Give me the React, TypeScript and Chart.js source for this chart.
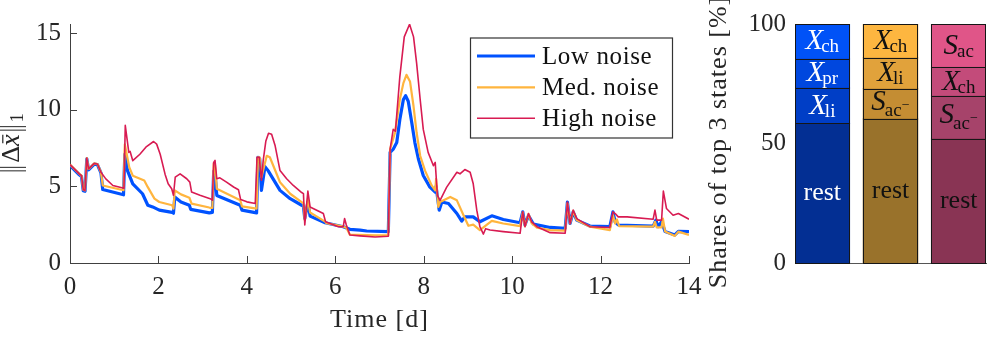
import React, { useEffect, useRef } from 'react';
import { Chart, registerables } from 'chart.js';

Chart.register(...registerables);

const FONT = '"Liberation Serif", "DejaVu Serif", serif';
const AXIS_COLOR = '#404040';
const TEXT_COLOR = '#262626';

// ---------- line chart data ----------
const lowT = [0, 0.21, 0.26, 0.30, 0.34, 0.38, 0.42, 0.55, 0.62, 0.70, 0.74, 1.21, 1.24, 1.30, 1.42, 1.64, 1.76, 1.87, 2.02, 2.31, 2.34, 2.37, 2.51, 2.70, 2.73, 3.15, 3.22, 3.25, 3.28, 3.32, 3.85, 3.89, 4.22, 4.25, 4.29, 4.33, 4.41, 4.48, 4.75, 4.98, 5.24, 5.28, 5.31, 5.38, 5.43, 5.77, 6.18, 6.33, 6.56, 6.71, 7.20, 7.24, 7.31, 7.39, 7.46, 7.54, 7.59, 7.65, 7.73, 7.80, 7.88, 7.99, 8.14, 8.26, 8.28, 8.35, 8.41, 8.56, 8.75, 8.86, 8.93, 9.12, 9.27, 9.54, 9.80, 10.18, 10.24, 10.29, 10.37, 10.48, 10.86, 11.20, 11.25, 11.31, 11.38, 11.46, 11.76, 12.21, 12.28, 12.33, 12.40, 13.19, 13.25, 13.30, 13.38, 13.46, 13.68, 13.76, 14.0];
const lowV = [6.36, 5.76, 5.64, 4.72, 4.68, 6.8, 6.08, 6.45, 6.42, 5.88, 4.8, 4.45, 7.1, 6.03, 5.17, 4.52, 3.77, 3.66, 3.45, 3.3, 3.25, 4.3, 3.98, 3.77, 3.5, 3.27, 3.3, 6.0, 5.9, 4.41, 3.77, 3.45, 3.27, 6.9, 6.8, 4.74, 6.29, 6.03, 4.74, 4.2, 3.77, 3.7, 2.9, 3.98, 3.06, 2.63, 2.37, 2.2, 2.15, 2.09, 2.05, 7.22, 7.43, 7.86, 9.37, 10.67, 10.92, 10.56, 9.15, 7.86, 6.79, 5.71, 4.95, 4.63, 5.0, 3.45, 3.98, 3.88, 3.23, 2.73, 3.01, 3.01, 2.69, 3.08, 2.84, 2.63, 3.34, 2.48, 3.1, 2.54, 2.32, 2.26, 3.98, 2.58, 3.34, 2.8, 2.41, 2.37, 3.34, 2.69, 2.48, 2.41, 2.8, 2.37, 2.69, 2.05, 1.83, 2.07, 2.05];

const medT = [0, 0.21, 0.26, 0.30, 0.34, 0.38, 0.42, 0.55, 0.62, 0.70, 0.74, 1.21, 1.24, 1.34, 1.42, 1.68, 1.76, 1.91, 2.02, 2.31, 2.34, 2.37, 2.51, 2.70, 2.75, 3.15, 3.22, 3.25, 3.28, 3.32, 3.85, 3.89, 4.22, 4.25, 4.29, 4.33, 4.45, 4.52, 4.75, 4.98, 5.24, 5.28, 5.31, 5.38, 5.43, 5.77, 5.80, 6.18, 6.25, 6.33, 6.90, 7.20, 7.24, 7.35, 7.46, 7.54, 7.61, 7.69, 7.77, 7.84, 7.92, 8.03, 8.18, 8.26, 8.28, 8.33, 8.37, 8.60, 8.75, 8.90, 9.01, 9.12, 9.27, 9.54, 9.80, 10.18, 10.24, 10.29, 10.37, 10.44, 10.56, 10.86, 11.20, 11.25, 11.31, 11.38, 11.46, 11.76, 12.21, 12.28, 12.33, 12.37, 12.42, 13.19, 13.23, 13.27, 13.38, 13.41, 13.46, 13.68, 13.76, 14.0];
const medV = [6.42, 5.82, 5.7, 4.78, 4.74, 6.85, 6.14, 6.5, 6.46, 5.92, 5.06, 4.75, 7.75, 6.25, 5.7, 5.38, 4.95, 4.2, 3.98, 3.77, 3.55, 4.74, 4.48, 4.26, 3.88, 3.62, 3.6, 6.5, 6.4, 4.85, 4.09, 3.7, 3.55, 6.9, 6.9, 5.6, 7.0, 6.9, 5.27, 4.52, 3.98, 3.9, 2.8, 4.2, 3.3, 2.7, 2.6, 2.37, 2.3, 1.85, 1.8, 1.82, 7.43, 8.5, 10.67, 11.74, 12.28, 11.85, 10.23, 8.5, 7.0, 6.03, 5.06, 4.74, 5.5, 3.66, 3.98, 4.31, 4.09, 3.12, 2.43, 2.5, 2.15, 2.75, 2.58, 2.41, 3.3, 2.4, 3.2, 2.6, 2.3, 2.15, 2.11, 3.9, 2.58, 3.4, 2.8, 2.37, 2.15, 3.12, 2.58, 2.84, 2.41, 2.37, 2.69, 2.32, 2.32, 2.9, 2.05, 1.77, 2.05, 1.83];

const highT = [0, 0.21, 0.26, 0.30, 0.34, 0.38, 0.42, 0.55, 0.62, 0.70, 0.81, 0.97, 1.22, 1.25, 1.33, 1.36, 1.42, 1.58, 1.73, 1.89, 1.96, 2.04, 2.15, 2.22, 2.30, 2.34, 2.38, 2.49, 2.64, 2.71, 2.75, 2.94, 3.17, 3.22, 3.25, 3.28, 3.32, 3.39, 3.54, 3.70, 3.81, 3.86, 4.00, 4.19, 4.23, 4.28, 4.33, 4.37, 4.43, 4.49, 4.56, 4.64, 4.75, 4.90, 5.05, 5.24, 5.28, 5.31, 5.38, 5.43, 5.73, 5.78, 6.07, 6.18, 6.21, 6.25, 6.33, 6.56, 6.90, 7.20, 7.24, 7.31, 7.36, 7.46, 7.56, 7.68, 7.77, 7.84, 7.92, 7.99, 8.10, 8.22, 8.26, 8.31, 8.37, 8.52, 8.75, 8.82, 8.93, 9.05, 9.12, 9.20, 9.27, 9.35, 9.40, 9.50, 9.80, 10.18, 10.24, 10.29, 10.37, 10.44, 10.56, 10.86, 11.20, 11.25, 11.31, 11.38, 11.46, 11.76, 12.21, 12.28, 12.33, 12.40, 12.60, 13.19, 13.23, 13.27, 13.38, 13.42, 13.49, 13.64, 13.76, 14.0];
const highV = [6.42, 5.82, 5.7, 4.78, 4.74, 6.85, 6.14, 6.5, 6.46, 5.92, 5.49, 5.06, 4.88, 8.98, 7.22, 7.28, 6.68, 7.1, 7.6, 7.93, 7.76, 7.1, 5.8, 5.17, 4.85, 4.42, 5.6, 5.82, 5.5, 5.28, 4.63, 4.42, 4.2, 4.1, 6.57, 6.7, 5.5, 5.56, 5.28, 4.96, 4.78, 4.14, 3.99, 3.88, 6.9, 6.9, 5.4, 6.7, 7.97, 8.47, 8.4, 7.65, 6.03, 5.5, 5.06, 4.6, 4.53, 2.48, 4.7, 3.66, 3.23, 2.69, 2.37, 2.37, 2.9, 2.48, 1.83, 1.77, 1.7, 1.75, 7.43, 8.72, 8.6, 12.17, 14.76, 15.58, 14.76, 13.03, 10.67, 8.72, 7.22, 6.35, 6.57, 4.41, 4.09, 4.95, 5.92, 5.82, 6.1, 5.92, 5.17, 3.45, 2.37, 1.89, 2.24, 2.15, 2.05, 1.94, 3.34, 2.37, 3.23, 2.69, 2.37, 1.98, 1.94, 3.98, 2.58, 3.45, 2.9, 2.37, 2.32, 3.34, 3.23, 3.01, 3.01, 2.86, 3.45, 2.8, 2.8, 4.69, 3.56, 3.12, 3.23, 2.86];

const seriesNames = ['Low noise', 'Med. noise', 'High noise'];
const seriesColors = ['#0052ff', '#ffb53e', '#d81b52'];
const seriesWidths = [3.2, 2.2, 1.6];

const timeTicks = [0, 2, 4, 6, 8, 10, 12, 14];
const normTicks = [0, 5, 10, 15];

// ---------- bar chart data ----------
const barPositions = [1, 2, 3];
const restShares = [58.4, 60.2, 51.9];
const secondShares = [14.8, 12.7, 18.0];
const thirdShares = [12.2, 13.0, 12.0];
const topShares = [14.6, 14.1, 18.1];
const restLabels = ['rest', 'rest', 'rest'];
const secondLabels = ['X_li', 'S_ac-', 'S_ac-'];
const thirdLabels = ['X_pr', 'X_li', 'X_ch'];
const topLabels = ['X_ch', 'X_ch', 'S_ac'];
const restColors = ['#032f93', '#99722b', '#893454'];
const secondColors = ['#003ec6', '#c48d33', '#a6436a'];
const thirdColors = ['#0047de', '#e1a23b', '#c34b7a'];
const topColors = ['#0052f7', '#fdb640', '#e05588'];
const labelColors = ['#ffffff', '#111111', '#111111'];
const shareTicks = [0, 50, 100];

// ---------- rich text helpers ----------
type Part = { t: string; size: number; italic?: boolean; dy?: number; dx?: number; bar?: boolean; norm?: boolean };

function fontOf(p: Part) {
  return `${p.italic ? 'italic ' : ''}${p.size}px ${FONT}`;
}

function partWidth(ctx: CanvasRenderingContext2D, p: Part) {
  if (p.norm) return 10;
  ctx.font = fontOf(p);
  return ctx.measureText(p.t).width;
}

function drawParts(ctx: CanvasRenderingContext2D, parts: Part[], x: number, y: number) {
  let w = 0;
  for (const p of parts) w += partWidth(ctx, p) + (p.dx || 0);
  let cx = x - w / 2;
  ctx.textAlign = 'left';
  ctx.textBaseline = 'alphabetic';
  for (const p of parts) {
    cx += p.dx || 0;
    const pw = partWidth(ctx, p);
    if (p.norm) {
      ctx.save();
      ctx.strokeStyle = ctx.fillStyle as string;
      ctx.lineWidth = 1;
      ctx.beginPath();
      for (const off of [3, 6.5]) {
        ctx.moveTo(cx + off, y - 19);
        ctx.lineTo(cx + off, y + 7);
      }
      ctx.stroke();
      ctx.restore();
    } else {
      ctx.font = fontOf(p);
      ctx.fillText(p.t, cx, y + (p.dy || 0));
    }
    if (p.bar) {
      ctx.save();
      ctx.strokeStyle = ctx.fillStyle as string;
      ctx.lineWidth = 1.2;
      ctx.beginPath();
      const by = y + (p.dy || 0) - p.size * 0.6;
      ctx.moveTo(cx + pw * 0.25, by);
      ctx.lineTo(cx + pw * 0.95, by);
      ctx.stroke();
      ctx.restore();
    }
    cx += pw;
  }
}

function labelParts(label: string): Part[] {
  if (label.indexOf('_') < 0) return [{ t: label, size: 26 }];
  const [main, subRaw] = label.split('_');
  const minus = subRaw.endsWith('-');
  const sub = minus ? subRaw.slice(0, -1) : subRaw;
  const parts: Part[] = [
    { t: main, size: 29, italic: true },
    { t: sub, size: 19, dy: minus ? 6 : 3, dx: main === 'X' ? -2 : -1 },
  ];
  if (minus) parts.push({ t: '\u2212', size: 14, dy: -1 });
  return parts;
}

// ---------- plugins ----------
const leftDecor = {
  id: 'leftDecor',
  afterDatasetsDraw(chart: any) {
    const { ctx, chartArea, scales } = chart;
    const xs = scales.x;
    const ys = scales.y;
    ctx.save();
    // inward tick marks
    ctx.strokeStyle = AXIS_COLOR;
    ctx.lineWidth = 1;
    ctx.beginPath();
    for (const v of normTicks) {
      const py = Math.round(ys.getPixelForValue(v)) + 0.5;
      ctx.moveTo(chartArea.left, py);
      ctx.lineTo(chartArea.left + 7, py);
    }
    for (const v of timeTicks) {
      const px = Math.round(xs.getPixelForValue(v)) + 0.5;
      ctx.moveTo(px, chartArea.bottom);
      ctx.lineTo(px, chartArea.bottom - 7);
    }
    ctx.stroke();

    // legend
    const bx = 470.5, by = 38, bw = 202, bh = 100;
    ctx.fillStyle = '#ffffff';
    ctx.fillRect(bx, by, bw, bh);
    ctx.strokeStyle = '#333333';
    ctx.lineWidth = 1.2;
    ctx.strokeRect(bx, by, bw, bh);
    const rows = [56, 87.3, 118.3];
    rows.forEach((ry, i) => {
      ctx.strokeStyle = seriesColors[i];
      ctx.lineWidth = seriesWidths[i];
      ctx.beginPath();
      ctx.moveTo(477, ry);
      ctx.lineTo(535, ry);
      ctx.stroke();
      ctx.fillStyle = '#111111';
      ctx.font = `25px ${FONT}`;
      (ctx as any).letterSpacing = '0.6px';
      ctx.textAlign = 'left';
      ctx.textBaseline = 'alphabetic';
      ctx.fillText(seriesNames[i], 542, ry + 8);
      (ctx as any).letterSpacing = '0px';
    });

    // x title
    ctx.fillStyle = TEXT_COLOR;
    ctx.font = `26px ${FONT}`;
    (ctx as any).letterSpacing = '1px';
    ctx.textAlign = 'center';
    ctx.textBaseline = 'alphabetic';
    ctx.fillText('Time [d]', (chartArea.left + chartArea.right) / 2, 327);
    (ctx as any).letterSpacing = '0px';

    // y title
    ctx.translate(19, (chartArea.top + chartArea.bottom) / 2);
    ctx.rotate(-Math.PI / 2);
    drawParts(ctx, [
      { t: '', size: 26, norm: true },
      { t: '\u0394', size: 26, dx: 1 },
      { t: 'x', size: 27, italic: true, bar: true },
      { t: '', size: 26, norm: true, dx: 1 },
      { t: '1', size: 18, dy: 4, dx: 1 },
    ], 0, 0);
    ctx.restore();
  },
};

const rightDecor = {
  id: 'rightDecor',
  afterDatasetsDraw(chart: any) {
    const { ctx } = chart;
    ctx.save();
    const layerLabels = [restLabels, secondLabels, thirdLabels, topLabels];
    // crisp outlines of every bar segment
    ctx.strokeStyle = '#161616';
    ctx.lineWidth = 1;
    layerLabels.forEach((_, di) => {
      const meta = chart.getDatasetMeta(di);
      meta.data.forEach((el: any) => {
        const l = Math.round(el.x - el.width / 2);
        const r = Math.round(el.x + el.width / 2);
        const t = Math.round(Math.min(el.y, el.base));
        const b = Math.round(Math.max(el.y, el.base));
        ctx.strokeRect(l + 0.5, t + 0.5, r - l - 1, b - t);
      });
    });
    layerLabels.forEach((labels, di) => {
      const meta = chart.getDatasetMeta(di);
      meta.data.forEach((el: any, j: number) => {
        const cy = (el.y + el.base) / 2;
        const lab = labels[j];
        ctx.fillStyle = labelColors[j];
        const off = lab === 'rest' ? 7 : lab.endsWith('-') ? 6 : 8;
        drawParts(ctx, labelParts(lab), el.x, cy + off);
      });
    });
    // y title
    ctx.fillStyle = TEXT_COLOR;
    ctx.translate(26, 142);
    ctx.rotate(-Math.PI / 2);
    ctx.font = `26px ${FONT}`;
    (ctx as any).letterSpacing = '1px';
    ctx.textAlign = 'center';
    ctx.textBaseline = 'alphabetic';
    ctx.fillText('Shares of top 3 states [%]', 0, 0);
    (ctx as any).letterSpacing = '0px';
    ctx.restore();
  },
};

function pts(ts: number[], vs: number[]) {
  return ts.map((t, i) => ({ x: t, y: vs[i] }));
}

export default function App() {
  const leftRef = useRef<HTMLCanvasElement>(null);
  const rightRef = useRef<HTMLCanvasElement>(null);

  useEffect(() => {
    const series = [pts(lowT, lowV), pts(medT, medV), pts(highT, highV)];
    const left = new Chart(leftRef.current as HTMLCanvasElement, {
      type: 'line',
      data: {
        datasets: series.map((d, i) => ({
          label: seriesNames[i],
          data: d,
          borderColor: seriesColors[i],
          backgroundColor: seriesColors[i],
          borderWidth: seriesWidths[i],
          pointRadius: 0,
          tension: 0,
          borderJoinStyle: 'round' as const,
          order: 3 - i,
        })),
      },
      options: {
        responsive: false,
        maintainAspectRatio: false,
        animation: false,
        devicePixelRatio: 1,
        events: [],
        layout: { padding: { top: 22, right: 23, left: 0, bottom: 0 } },
        plugins: { legend: { display: false }, tooltip: { enabled: false } },
        scales: {
          x: {
            type: 'linear',
            min: 0,
            max: 14,
            afterBuildTicks: (s: any) => { s.ticks = timeTicks.map((v) => ({ value: v })); },
            afterFit: (s: any) => { s.height = 77; },
            ticks: { font: { family: FONT, size: 25 }, color: TEXT_COLOR, padding: 9, maxRotation: 0 },
            grid: { display: false, drawTicks: false },
            border: { display: true, color: AXIS_COLOR, width: 1 },
          },
          y: {
            type: 'linear',
            min: 0,
            max: 15.6,
            afterBuildTicks: (s: any) => { s.ticks = normTicks.map((v) => ({ value: v })); },
            afterFit: (s: any) => { s.width = 70; },
            ticks: { font: { family: FONT, size: 25 }, color: TEXT_COLOR, padding: 9 },
            grid: { display: false, drawTicks: false },
            border: { display: true, color: AXIS_COLOR, width: 1 },
          },
        },
      },
      plugins: [leftDecor],
    } as any);

    const layers = [restShares, secondShares, thirdShares, topShares];
    const layerColors = [restColors, secondColors, thirdColors, topColors];
    const right = new Chart(rightRef.current as HTMLCanvasElement, {
      type: 'bar',
      data: {
        datasets: layers.map((vals, i) => ({
          data: vals.map((v, j) => ({ x: barPositions[j], y: v })),
          backgroundColor: layerColors[i],
          borderWidth: 0,
          inflateAmount: 0.5,
          barPercentage: 0.8,
          categoryPercentage: 1,
        })),
      },
      options: {
        responsive: false,
        maintainAspectRatio: false,
        animation: false,
        devicePixelRatio: 1,
        events: [],
        layout: { padding: { top: 22, right: 10, left: 0, bottom: 0 } },
        plugins: { legend: { display: false }, tooltip: { enabled: false } },
        scales: {
          x: {
            type: 'linear',
            min: 0.6,
            max: 3.4,
            stacked: true,
            offset: false,
            afterBuildTicks: (s: any) => { s.ticks = barPositions.map((v) => ({ value: v })); },
            afterFit: (s: any) => { s.height = 77; },
            ticks: { display: false },
            grid: { display: false, drawTicks: false },
            border: { display: true, color: '#555555', width: 1 },
          },
          y: {
            type: 'linear',
            min: 0,
            max: 100,
            stacked: true,
            afterBuildTicks: (s: any) => { s.ticks = shareTicks.map((v) => ({ value: v })); },
            afterFit: (s: any) => { s.width = 95; },
            ticks: { font: { family: FONT, size: 25 }, color: TEXT_COLOR, padding: 9 },
            grid: { display: false, drawTicks: false },
            border: { display: false },
          },
        },
      },
      plugins: [rightDecor],
    } as any);

    return () => {
      left.destroy();
      right.destroy();
    };
  }, []);

  return (
    <div style={{ position: 'absolute', left: 0, top: 0, width: 996, height: 340, background: '#ffffff', overflow: 'hidden' }}>
      <canvas ref={leftRef} width={712} height={340} style={{ position: 'absolute', left: 0, top: 0, width: 712, height: 340 }} />
      <canvas ref={rightRef} width={296} height={340} style={{ position: 'absolute', left: 700, top: 0, width: 296, height: 340 }} />
    </div>
  );
}
